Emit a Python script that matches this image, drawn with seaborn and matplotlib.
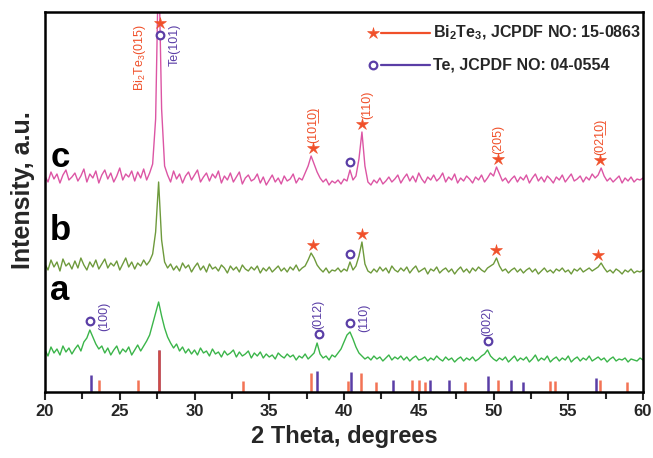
import numpy as np
import pandas as pd
import matplotlib
matplotlib.use('Agg')
import matplotlib.pyplot as plt
import seaborn as sns

# XRD patterns, step 0.2 degrees from 20 to 60 (intensity, a.u.)
curve_c = [18, 12, 22, 15, 20, 11, 19, 24, 14, 17,
           21, 13, 18, 25, 12, 20, 16, 23, 11, 19,
           24, 15, 21, 12, 18, 26, 14, 20, 17, 23,
           13, 22, 16, 25, 14, 21, 30, 75,
           240,
           85, 28, 19, 12, 23, 15, 20, 11, 18, 22, 14,
           19, 24, 12, 17, 21, 13, 20, 16, 23, 11,
           18, 14, 21, 12, 17, 22, 10, 16, 19, 13,
           15, 20, 11, 17, 9, 14, 19, 12, 16, 10,
           18, 13, 15, 20, 11, 16, 14, 21, 28, 38,
           30, 22, 16, 12, 15, 9, 13, 11, 14, 10,
           15, 13, 24, 14, 18, 35, 62, 28, 12, 9,
           14, 11, 16, 10, 13, 17, 12, 15, 19, 11,
           16, 20, 13, 18, 12, 21, 15, 11, 17, 14,
           19, 13, 16, 21, 12, 17, 14, 20, 11, 16,
           13, 18, 15, 11, 17, 14, 19, 12, 16, 21,
           18, 27, 20, 13, 16, 11, 15, 18, 12, 17,
           14, 19, 11, 16, 20, 13, 17, 12, 18, 15,
           11, 17, 14, 19, 12, 16, 20, 13, 15, 18,
           12, 17, 14, 20, 16, 19, 26, 18, 13, 16,
           12, 15, 18, 11, 16, 13, 17, 12, 15, 14, 16]

curve_b = [16, 10, 20, 13, 18, 9, 21, 14, 17, 11,
           19, 12, 22, 15, 10, 18, 13, 20, 11, 16,
           21, 12, 17, 14, 19, 10, 16, 22, 13, 18,
           11, 17, 14, 20, 15, 19, 26, 48,
           98,
           40, 18, 12, 16, 10, 14, 9, 17, 12, 15, 8,
           13, 17, 10, 14, 8, 16, 11, 13, 9, 15,
           12, 7, 14, 10, 13, 8, 15, 11, 9, 13,
           10, 14, 7, 12, 9, 13, 8, 11, 14, 9,
           12, 8, 13, 10, 15, 9, 12, 14, 20, 27,
           22, 15, 11, 8, 12, 7, 10, 9, 12, 8,
           11, 9, 18, 10, 14, 24, 38, 16, 9, 7,
           11, 8, 13, 9, 12, 7, 14, 10, 8, 12,
           9, 13, 7, 11, 14, 8, 10, 12, 6, 11,
           9, 13, 7, 10, 12, 8, 11, 6, 10, 13,
           8, 11, 7, 12, 9, 13, 10, 8, 12, 14,
           16, 22, 14, 9, 11, 7, 10, 12, 8, 11,
           7, 10, 12, 8, 11, 6, 9, 12, 8, 10,
           7, 11, 9, 12, 8, 10, 6, 11, 9, 12,
           8, 10, 12, 9, 11, 13, 17, 12, 8, 10,
           7, 11, 9, 6, 10, 8, 11, 7, 9, 8, 10]

curve_a = [18, 12, 21, 15, 19, 13, 22, 16, 20, 14,
           19, 23, 17, 26, 30, 38, 31, 24, 19, 22,
           15, 20, 13, 18, 22, 14, 19, 16, 21, 13,
           18, 23, 17, 22, 27, 33, 44, 55,
           66,
           52, 40, 31, 25, 20, 24, 17, 21, 15, 19, 14,
           18, 13, 20, 15, 17, 12, 19, 14, 16, 11,
           17, 13, 15, 18, 11, 16, 12, 14, 17, 10,
           15, 12, 16, 10, 14, 11, 13, 9, 15, 12,
           10, 14, 11, 13, 8, 12, 10, 14, 9, 12,
           15, 25, 14, 10, 12, 8, 13, 11, 15, 19,
           26, 33, 36, 29, 21, 15, 12, 9, 11, 8,
           12, 9, 11, 7, 10, 13, 8, 11, 9, 12,
           8, 11, 7, 10, 12, 8, 9, 11, 7, 10,
           8, 12, 9, 7, 11, 8, 10, 6, 9, 11,
           7, 10, 8, 11, 7, 9, 12, 14, 18, 12,
           9, 7, 10, 8, 11, 6, 9, 12, 7, 10,
           8, 11, 6, 9, 13, 7, 10, 8, 12, 6,
           9, 11, 7, 10, 8, 12, 6, 9, 11, 7,
           10, 8, 12, 7, 9, 11, 8, 10, 6, 9,
           11, 7, 9, 8, 10, 6, 9, 8, 7, 10, 8]

two_theta = np.round(20 + 0.2 * np.arange(len(curve_c)), 1)

# reference patterns (stick positions and heights)
bi_pos = [23.6, 26.2, 27.6, 33.27, 37.8, 40.27, 41.15, 42.13, 44.53, 45.0,
          45.45, 48.1, 50.3, 53.8, 54.1, 57.1, 58.9]
bi_h = [12, 12, 42, 11, 19, 11, 19, 10, 12, 12, 10, 10, 12, 11, 11, 12, 10]
te_pos = [23.05, 27.6, 38.2, 40.45, 43.27, 45.78, 47.05, 49.6, 51.2, 51.95, 56.87]
te_h = [17, 42, 21, 20, 12, 12, 12, 16, 12, 10, 14]

# stacking offsets and sample letters
offsets = {'a': 24, 'b': 112, 'c': 198}
letter_y = {'a': 92, 'b': 152, 'c': 225}

# peak markers
c_bi = [37.9, 41.2, 50.3, 57.1]
c_bi_hkl = ['(101\u03320\u0332)', '(110)', '(205)', '(021\u03320\u0332)']
c_te = [40.4]
b_bi = [37.9, 41.2, 50.2, 57.0]
b_te = [40.4]
a_te = [23.0, 38.3, 40.4, 49.6]
a_te_hkl = ['(100)', '(012)', '(110)', '(002)']
a_te_side = [True, False, True, False]

RED = '#f0502a'
PURPLE = '#5a3ea6'
colors = {'a': '#3bb54a', 'b': '#6e9a3c', 'c': '#dc55a4'}

sns.set_theme(style='white')
plt.rcParams['font.family'] = ['Liberation Sans', 'DejaVu Sans']
plt.rcParams['mathtext.fontset'] = 'custom'
plt.rcParams['mathtext.rm'] = 'Liberation Sans'
plt.rcParams['mathtext.bf'] = 'Liberation Sans:bold'

fig = plt.figure(figsize=(6.53, 4.58), dpi=100)
ax = fig.add_axes([45 / 653, 66 / 458, 598 / 653, 380 / 458])

curves = {'a': curve_a, 'b': curve_b, 'c': curve_c}
for key in ['a', 'b', 'c']:
    df = pd.DataFrame({'x': two_theta, 'y': np.array(curves[key]) + offsets[key]})
    sns.lineplot(data=df, x='x', y='y', color=colors[key], lw=1.0, ax=ax)
    ax.text(20.35, letter_y[key], key, fontsize=25, fontweight='bold',
            va='baseline', ha='left', color='black')

ax.vlines(te_pos, 0, te_h, color=PURPLE, lw=1.8)
ax.vlines(bi_pos, 0, bi_h, color=RED, lw=1.8, alpha=0.8)


def peak_top(key, pos):
    y = np.array(curves[key])
    m = np.abs(two_theta - pos) <= 0.3
    return offsets[key] + y[m].max()


star_kw = dict(marker='*', color=RED, ms=9, mew=0.4, ls='none', zorder=5)
circ_kw = dict(marker='o', mfc='white', mec=PURPLE, mew=1.6, ms=5.5, ls='none', zorder=5)
lab_kw = dict(rotation=90, fontsize=9, ha='center', va='bottom')

# curve c
for pos, hkl in zip(c_bi, c_bi_hkl):
    yt = peak_top('c', pos) + 8
    ax.plot([pos], [yt], **star_kw)
    dx = 0.35 if hkl == '(110)' else 0.05
    ax.text(pos + dx, yt + 5, hkl, color=RED, **lab_kw)
for pos in c_te:
    ax.plot([pos], [peak_top('c', pos) + 8], **circ_kw)

ytop = 380
ax.plot([27.67], [ytop - 11], **star_kw)
ax.plot([27.67], [ytop - 23], **circ_kw)
ax.text(26.35, ytop - 12, 'Bi$_2$Te$_3$(015)', color=RED, rotation=90,
        fontsize=9, ha='center', va='top')
ax.text(28.7, ytop - 12, 'Te(101)', color=PURPLE, rotation=90,
        fontsize=9, ha='center', va='top')

# curve b
for pos in b_bi:
    ax.plot([pos], [peak_top('b', pos) + 8], **star_kw)
for pos in b_te:
    ax.plot([pos], [peak_top('b', pos) + 8], **circ_kw)

# curve a
for pos, hkl, side in zip(a_te, a_te_hkl, a_te_side):
    yt = peak_top('a', pos) + 9
    ax.plot([pos], [yt], **circ_kw)
    if side:
        ax.text(pos + 0.95, yt + 5, hkl, color=PURPLE, rotation=90, fontsize=9,
                ha='center', va='center')
    else:
        ax.text(pos, yt + 5, hkl, color=PURPLE, **lab_kw)

# legend drawn by hand
for yf, col, mk, txt in [(0.945, RED, '*', 'Bi$_\\mathbf{2}$Te$_\\mathbf{3}$, JCPDF NO: 15-0863'),
                         (0.861, PURPLE, 'o', 'Te, JCPDF NO: 04-0554')]:
    ax.plot([0.562, 0.644], [yf, yf], color=col, lw=1.6, transform=ax.transAxes)
    if mk == '*':
        ax.plot([0.549], [yf], marker='*', color=RED, ms=9, mew=0.4, transform=ax.transAxes)
    else:
        ax.plot([0.549], [yf], marker='o', mfc='white', mec=PURPLE, mew=1.6, ms=5.5,
                transform=ax.transAxes)
    ax.text(0.648, yf, txt, transform=ax.transAxes, fontsize=11.5, fontweight='bold',
            va='center', ha='left')

ax.set_xlim(20, 60)
ax.set_ylim(0, 380)
ax.set_xticks(np.arange(20, 61, 5))
ax.set_xticks(np.arange(22.5, 60, 5), minor=True)
ax.set_yticks([])
ax.tick_params(axis='x', which='major', direction='out', length=6, width=1.5,
               labelsize=12, bottom=True, pad=3)
ax.tick_params(axis='x', which='minor', direction='out', length=5, width=1.5, bottom=True)
for lab in ax.get_xticklabels():
    lab.set_fontweight('bold')
for sp in ax.spines.values():
    sp.set_color('black')
    sp.set_linewidth(1.8)
ax.set_xlabel('2 Theta, degrees', fontsize=17, fontweight='bold', labelpad=4)
ax.set_ylabel('Intensity, a.u.', fontsize=18, fontweight='bold')
ax.yaxis.set_label_coords(-0.017, 0.53)

fig.savefig('out.png', dpi=100)
